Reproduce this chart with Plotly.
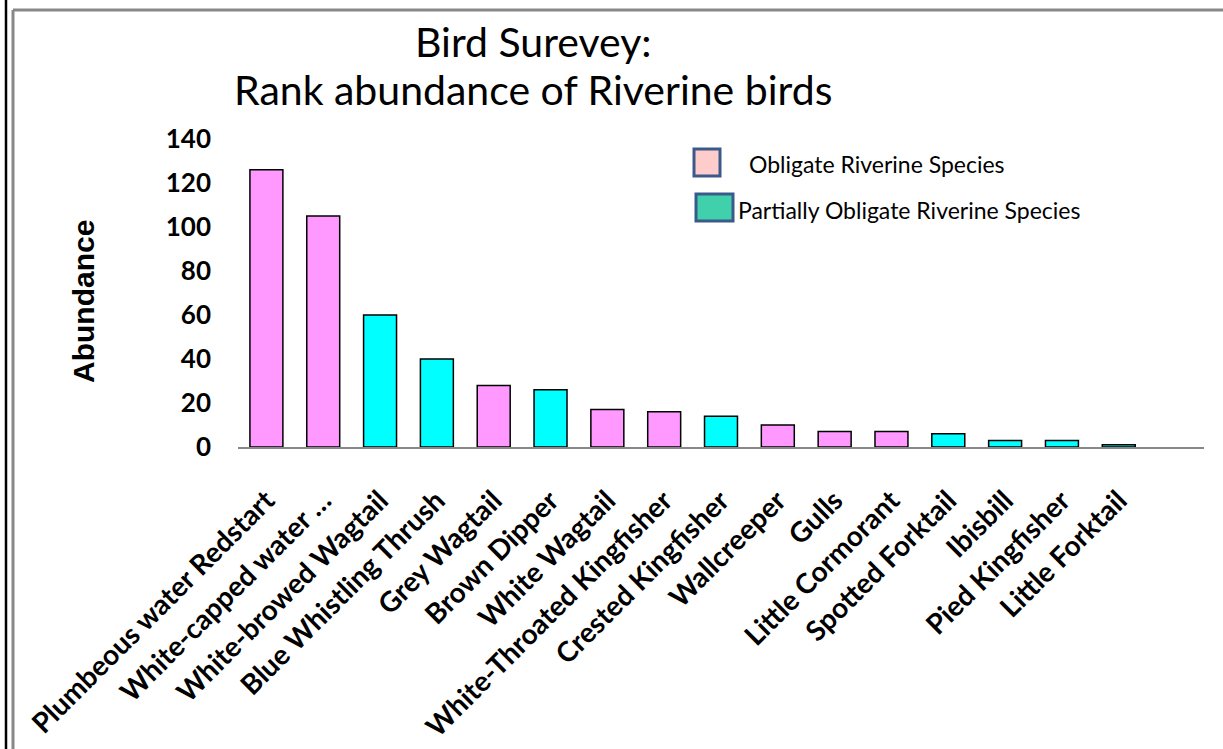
import plotly.graph_objects as go

# Species ranked by abundance
species = [
    "Plumbeous water Redstart", "White-capped water \u2026", "White-browed Wagtail",
    "Blue Whistling Thrush", "Grey Wagtail", "Brown Dipper", "White Wagtail",
    "White-Throated Kingfisher", "Crested Kingfisher", "Wallcreeper", "Gulls",
    "Little Cormorant", "Spotted Forktail", "Ibisbill", "Pied Kingfisher", "Little Forktail",
]
abundance = [126, 105, 60, 40, 28, 26, 17, 16, 14, 10, 7, 7, 6, 3, 3, 1]
# O = obligate riverine, P = partially obligate riverine
group = ["O", "O", "P", "P", "O", "P", "O", "O", "P", "O", "O", "O", "P", "P", "P", "P"]

y_ticks = [0, 20, 40, 60, 80, 100, 120, 140]

BAR_COLORS = {"O": "#FF99FF", "P": "#00FFFF"}

W, H = 1223, 749
L, R, T, B = 238, 19, 139, 302
PW, PH = W - L - R, H - T - B


def px(x):
    return (x - L) / PW


def py(y):
    return 1 - (y - T) / PH


fig = go.Figure()
for g in ["O", "P"]:
    idx = [i for i, v in enumerate(group) if v == g]
    fig.add_trace(go.Bar(
        x=idx,
        y=[abundance[i] for i in idx],
        width=0.58,
        marker=dict(color=BAR_COLORS[g], line=dict(color="black", width=1.5)),
        showlegend=False,
        hoverinfo="skip",
    ))

fig.update_layout(
    width=W, height=H,
    margin=dict(l=L, r=R, t=T, b=B, autoexpand=False),
    paper_bgcolor="white", plot_bgcolor="white",
    barmode="overlay",
    showlegend=False,
    font=dict(family="Lato", color="black"),
)

fig.update_xaxes(
    range=[-0.5, 16.5],
    tickmode="array", tickvals=list(range(len(species))), ticktext=species,
    tickangle=-45,
    tickfont=dict(family="Lato", size=28, color="black", weight="bold"),
    showline=True, linecolor="#888888", linewidth=2,
    showgrid=False, zeroline=False,
    ticks="", ticklabelstandoff=24,
)
fig.update_yaxes(
    range=[0, 140],
    tickmode="array", tickvals=y_ticks,
    tickfont=dict(family="Lato", size=26, color="black", weight="bold"),
    showline=False, showgrid=False, zeroline=False,
    ticks="", ticklabelstandoff=26,
)

# Title, two lines
for text, y in [("Bird Surevey:", 42), ("Rank abundance of Riverine birds", 90)]:
    fig.add_annotation(
        x=px(533), y=py(y), xref="paper", yref="paper",
        text=text, showarrow=False, xanchor="center", yanchor="middle",
        font=dict(family="Lato", size=41, color="black"),
    )

# Axis title
fig.add_annotation(
    x=px(83), y=py(302), xref="paper", yref="paper",
    text="<b>Abundance</b>", textangle=-90,
    showarrow=False, xanchor="center", yanchor="middle",
    font=dict(family="Liberation Sans", size=30, color="black"),
)

# Legend
legend_items = [
    ("Obligate Riverine Species", "#FFCCCC", (694, 149, 720, 176), 747, 164),
    ("Partially Obligate Riverine Species", "#40D0AC", (696, 194, 733, 221), 736, 210),
]
for label, fill, (x0, y0, x1, y1), tx, ty in legend_items:
    fig.add_shape(
        type="rect", xref="paper", yref="paper",
        x0=px(x0), x1=px(x1), y0=py(y0), y1=py(y1),
        line=dict(color="#3B5A8A", width=3), fillcolor=fill,
    )
    fig.add_annotation(
        x=px(tx), y=py(ty), xref="paper", yref="paper",
        text=label, showarrow=False, xanchor="left", yanchor="middle",
        font=dict(family="Lato", size=23, color="black"),
    )

# Frame lines
fig.add_shape(type="line", xref="paper", yref="paper",
              x0=px(6), x1=px(6), y0=py(0), y1=py(H),
              line=dict(color="black", width=2.5))
fig.add_shape(type="line", xref="paper", yref="paper",
              x0=px(13), x1=px(13), y0=py(10), y1=py(H),
              line=dict(color="#888888", width=3))
fig.add_shape(type="line", xref="paper", yref="paper",
              x0=px(13), x1=px(W), y0=py(10), y1=py(10),
              line=dict(color="#888888", width=3))

fig.write_html("out.html")
